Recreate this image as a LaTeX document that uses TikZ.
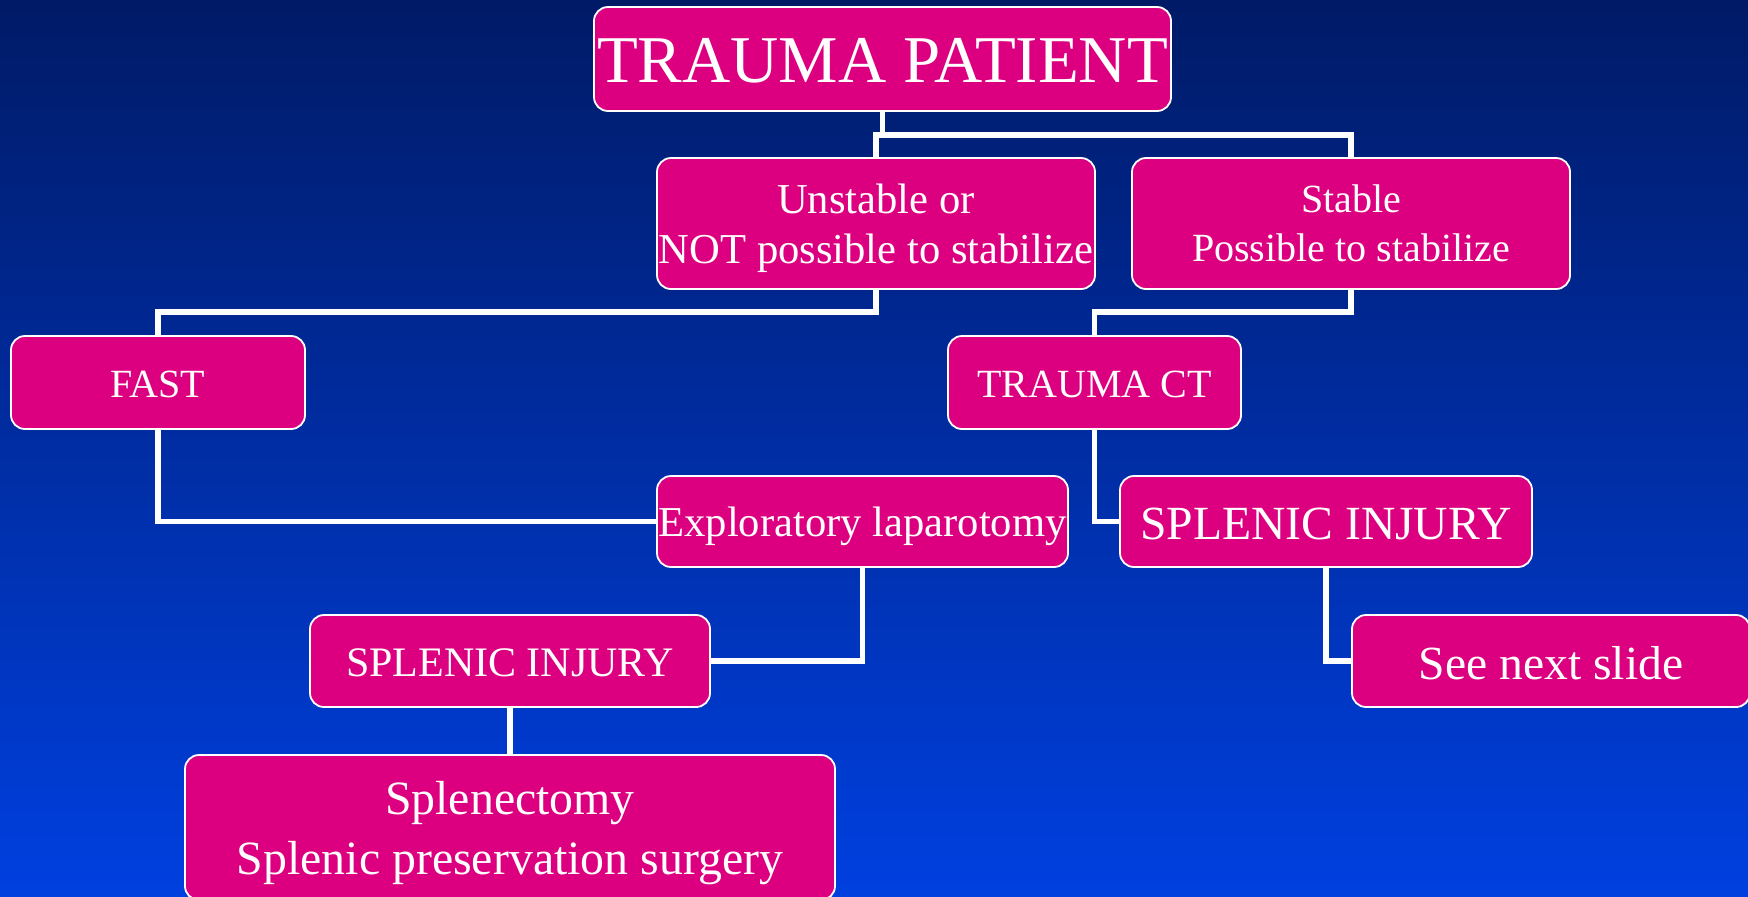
\documentclass[tikz,border=0pt]{standalone}
\usepackage{fontspec}
\setmainfont{Liberation Serif}
\definecolor{bgtop}{RGB}{0,26,102}
\definecolor{bgbot}{RGB}{0,64,224}
\definecolor{boxfill}{RGB}{220,0,128}
\newcommand{\lowtxt}[1]{\raisebox{-1.8pt}{#1}}
\tikzset{
  box/.style={draw=white, line width=0.9pt, fill=boxfill, rounded corners=7pt,
    text=white, inner sep=0pt, align=center, anchor=center, text depth=0pt},
  conn/.style={draw=white, line width=2.6pt, line join=miter},
}
\begin{document}
\begin{tikzpicture}[x=0.5pt,y=-0.5pt]
\shade[top color=bgtop, bottom color=bgbot] (0,0) rectangle (1748,896);
\useasboundingbox (0,0) rectangle (1748,896);

\coordinate (j1) at (0,135);
\coordinate (j2) at (0,312);

\node[box, minimum width=288.5pt, minimum height=52pt, font=\fontsize{33.4}{36}\selectfont] (tp) at (882.5,59) {\lowtxt{TRAUMA PATIENT}};
\node[box, minimum width=219pt, minimum height=65.5pt, font=\fontsize{21.3}{25}\selectfont] (un) at (876,223.5) {Unstable or\\NOT possible to stabilize};
\node[box, minimum width=219pt, minimum height=65.5pt, font=\fontsize{20}{24.5}\selectfont] (st) at (1351,223.5) {Stable\\Possible to stabilize};
\node[box, minimum width=147pt, minimum height=46.5pt, font=\fontsize{20}{24}\selectfont] (fast) at (158,382.5) {\lowtxt{FAST}};
\node[box, minimum width=146.5pt, minimum height=46.5pt, font=\fontsize{20}{24}\selectfont] (ct) at (1094.5,382.5) {\lowtxt{TRAUMA CT}};
\node[box, minimum width=205.5pt, minimum height=45.5pt, font=\fontsize{21.3}{24}\selectfont] (expl) at (862.5,521.5) {Exploratory laparotomy};
\node[box, minimum width=206pt, minimum height=45.5pt, font=\fontsize{23.8}{27}\selectfont] (rsi) at (1326,521.5) {\lowtxt{SPLENIC INJURY}};
\node[box, minimum width=200pt, minimum height=46pt, font=\fontsize{21}{24}\selectfont] (lsi) at (510,661) {\lowtxt{SPLENIC INJURY}};
\node[box, minimum width=199pt, minimum height=46pt, font=\fontsize{23.8}{27}\selectfont] (next) at (1551,661) {\lowtxt{See next slide}};
\node[box, minimum width=325pt, minimum height=72.5pt, font=\fontsize{23.9}{30}\selectfont] (sple) at (510,827.5) {Splenectomy\\Splenic preservation surgery};

\draw[conn] (tp.south) -- (tp.south |- j1);
\draw[conn] (un.north) -- (un.north |- j1) -- (st.north |- j1) -- (st.north);
\draw[conn] (un.south) -- (un.south |- j2) -- (fast.north |- j2) -- (fast.north);
\draw[conn] (st.south) -- (st.south |- j2) -- (ct.north |- j2) -- (ct.north);
\draw[conn] (fast.south) |- (expl.west);
\draw[conn] (ct.south) |- (rsi.west);
\draw[conn] (expl.south) |- (lsi.east);
\draw[conn] (rsi.south) |- (next.west);
\draw[conn] (lsi.south) -- (sple.north);
\end{tikzpicture}
\end{document}
